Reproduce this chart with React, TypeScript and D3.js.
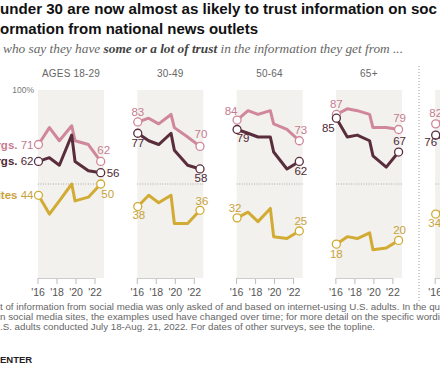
import * as d3 from "d3";

// survey dates (decimal years) shared by every panel
const years = [2016.05, 2017.2, 2018.25, 2019.55, 2019.9, 2021.3, 2022.6];
const panelTitles = ["AGES 18-29", "30-49", "50-64", "65+", "TOTAL"];
const tickYears = [2016, 2018, 2020, 2022];
const tickLabels = ["'16", "'18", "'20", "'22"];
const seriesNames = ["Local news orgs.", "National news orgs.", "Social media sites"];

// one row per panel
const localNews = [
  [71, 80, 73, 81, 73, 71, 62],
  [83, 85, 82, 87, 80, 75, 70],
  [84, 89, 87, 89, 82, 79, 73],
  [87, 90, 89, 87, 80, 80, 79],
  [82, 85, 82, 86, 79, 75, 71],
];
const nationalNews = [
  [62, 64, 60, 76, 62, 57, 56],
  [77, 73, 71, 77, 68, 60, 58],
  [79, 77, 75, 75, 67, 58, 62],
  [85, 75, 76, 73, 65, 59, 67],
  [76, 73, 71, 76, 67, 61, 61],
];
const socialMedia = [
  [44, 34, 41, 50, 41, 43, 50],
  [38, 44, 40, 44, 29, 29, 36],
  [32, 35, 30, 37, 22, 21, 25],
  [18, 22, 21, 24, 15, 16, 20],
  [34, 37, 34, 40, 28, 27, 33],
];

const colors = ["#d0879a", "#5a2d3c", "#d2ab34"];
const textColors = ["#c67c8f", "#4e2935", "#c8a23c"];

// label offsets [dx, dy] from the start / end circles, per panel and series
const startOffsets = [
  [[0, 0], [0, 0], [0, 0]],
  [[0, -6], [0, 14], [1, 12]],
  [[-6, -5], [6, 13], [-2, -6]],
  [[0, -6.5], [-8, 14], [0, 14]],
  [[0, -7], [-5, 11], [-1, 13]],
];
const endOffsets = [
  [[3, -7], [6, 4], [7, 14]],
  [[1, -8], [1, 13], [2, -5.5]],
  [[1.5, -7], [1.5, 14], [1.5, -6]],
  [[1, -7], [1, -7], [1, -6]],
  [[0, -7], [0, 13], [0, -6]],
];

const W = 440;
const H = 367;
const panelX0 = 38;
const panelStep = 99.3;
const panelW = 66;
const font = "'Liberation Sans', Arial, sans-serif";

export default function App() {
  const y = d3.scaleLinear().domain([0, 100]).range([278, 90]);
  const allSeries = [localNews, nationalNews, socialMedia];

  return (
    <svg
      width={W}
      height={H}
      style={{ position: "absolute", left: 0, top: 0, background: "#fff" }}
    >
      {/* title */}
      <text x={0} y={14} fontFamily={font} fontWeight="bold" fontSize={15.5} fill="#111"
        textLength={437} lengthAdjust="spacingAndGlyphs">
        under 30 are now almost as likely to trust information on soc
      </text>
      <text x={0} y={34} fontFamily={font} fontWeight="bold" fontSize={15.5} fill="#111"
        textLength={258} lengthAdjust="spacingAndGlyphs">
        ormation from national news outlets
      </text>
      <text x={3} y={53} fontFamily="'Liberation Serif', 'DejaVu Serif', serif" fontStyle="italic"
        fontSize={12.5} fill="#666" textLength={400} lengthAdjust="spacingAndGlyphs">
        who say they have{" "}
        <tspan fontWeight="bold" fill="#444">some or a lot of trust</tspan> in the
        information they get from ...
      </text>

      {/* separator before total panel */}
      <line x1={419} x2={419} y1={66} y2={302} stroke="#999" strokeWidth={1}
        strokeDasharray="1,2" />

      <text x={34} y={93} textAnchor="end" fontFamily={font} fontSize={8.5} fill="#777">
        100%
      </text>

      {panelTitles.map((title, p) => {
        const x0 = panelX0 + p * panelStep;
        const x = d3.scaleLinear().domain([2016, 2023]).range([x0, x0 + 66.5]);
        const line = d3
          .line<number>()
          .x((_, i) => x(years[i]))
          .y((d) => y(d));
        return (
          <g key={title}>
            <rect x={x0} y={y(100)} width={panelW} height={y(0) - y(100)} fill="#f2f1ed" />
            <line x1={x0} x2={x0 + panelW} y1={y(50)} y2={y(50)} stroke="#999"
              strokeWidth={0.8} strokeDasharray="1,1.5" />
            <text x={x0 + panelW / 2} y={77} textAnchor="middle" fontFamily={font}
              fontSize={10} fill="#666" letterSpacing={0.2}>
              {title}
            </text>

            {/* x axis */}
            {tickYears.map((t, i) => (
              <g key={t}>
                <line x1={x(t)} x2={x(t)} y1={y(0)} y2={y(0) + 6} stroke="#bbb" strokeWidth={1} />
                <text x={x(t)} y={296} textAnchor="middle" fontFamily={font} fontSize={10.5}
                  fill="#555">
                  {tickLabels[i]}
                </text>
              </g>
            ))}
            <line x1={x0} x2={x(2022)} y1={y(0) + 0.5} y2={y(0) + 0.5} stroke="#ccc" />

            {allSeries.map((series, s) => (
              <path key={s} d={line(series[p]) ?? ""} fill="none" stroke={colors[s]}
                strokeWidth={3} strokeLinejoin="round" />
            ))}

            {allSeries.map((series, s) => {
              const vals = series[p];
              const last = vals.length - 1;
              const sx = x(years[0]);
              const sy = y(vals[0]);
              const ex = x(years[last]);
              const ey = y(vals[last]);
              return (
                <g key={"c" + s}>
                  <circle cx={sx} cy={sy} r={4} fill="#fff" stroke={colors[s]} strokeWidth={1.3} />
                  <circle cx={ex} cy={ey} r={4} fill="#fff" stroke={colors[s]} strokeWidth={1.3} />
                  {p === 0 ? (
                    <text x={sx - 5} y={sy + 4} textAnchor="end" fontFamily={font}
                      fontSize={11.5} fill={textColors[s]}>
                      <tspan fontWeight="bold">{seriesNames[s]}</tspan> {vals[0]}
                    </text>
                  ) : (
                    <text x={sx + startOffsets[p][s][0]} y={sy + startOffsets[p][s][1]}
                      textAnchor="middle" fontFamily={font} fontSize={11.5} fill={textColors[s]}>
                      {vals[0]}
                    </text>
                  )}
                  {p < 4 && (
                    <text x={ex + endOffsets[p][s][0]} y={ey + endOffsets[p][s][1]}
                      textAnchor={p === 0 && s === 1 ? "start" : "middle"} fontFamily={font}
                      fontSize={11.5} fill={textColors[s]}>
                      {vals[last]}
                    </text>
                  )}
                </g>
              );
            })}
          </g>
        );
      })}

      {/* notes */}
      <text x={0} y={310} fontFamily={font} fontSize={8.8} fill="#666" textLength={440}
        lengthAdjust="spacingAndGlyphs">
        t of information from social media was only asked of and based on internet-using U.S. adults. In the qu
      </text>
      <text x={0} y={320} fontFamily={font} fontSize={8.8} fill="#666" textLength={440}
        lengthAdjust="spacingAndGlyphs">
        n social media sites, the examples used have changed over time; for more detail on the specific wordi
      </text>
      <text x={0} y={330} fontFamily={font} fontSize={8.8} fill="#666" textLength={375}
        lengthAdjust="spacingAndGlyphs">
        .S. adults conducted July 18-Aug. 21, 2022. For dates of other surveys, see the topline.
      </text>
      <text x={0} y={363} fontFamily={font} fontSize={9.5} fontWeight="bold" fill="#222">
        ENTER
      </text>
    </svg>
  );
}
